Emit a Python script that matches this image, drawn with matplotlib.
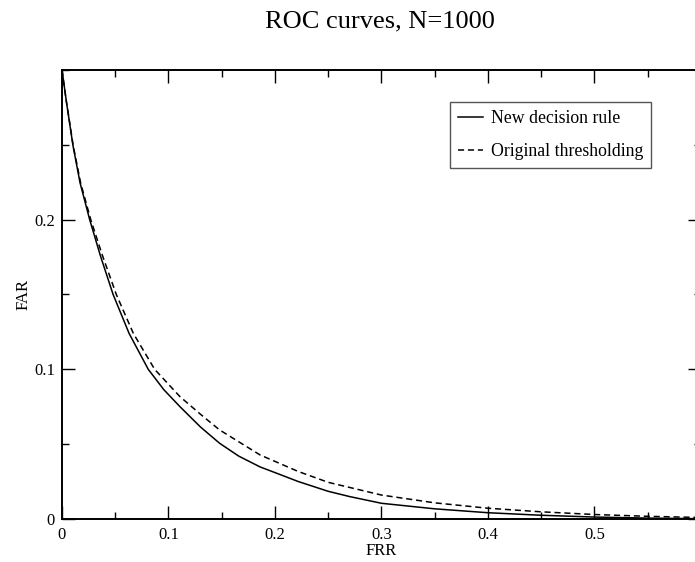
import matplotlib
matplotlib.use('Agg')
import matplotlib.pyplot as plt
from matplotlib.ticker import MultipleLocator

plt.rcParams['font.family'] = ['Liberation Serif', 'DejaVu Serif']

# FRR / FAR pairs for the two decision schemes
frr_new = [0.0, 0.004, 0.0103, 0.017, 0.026, 0.036, 0.048, 0.063, 0.081, 0.0955,
           0.1107, 0.13, 0.148, 0.166, 0.186, 0.2, 0.222, 0.25, 0.27, 0.3,
           0.35, 0.4, 0.45, 0.5, 0.55, 0.6]
far_new = [0.3, 0.2795, 0.2495, 0.2245, 0.2, 0.176, 0.15, 0.124, 0.1, 0.0865,
           0.0751, 0.0615, 0.0506, 0.042, 0.0348, 0.031, 0.025, 0.0185, 0.015, 0.0105,
           0.0068, 0.0042, 0.0025, 0.0013, 0.0006, 0.0002]

frr_orig = [0.0, 0.004, 0.0105, 0.0175, 0.027, 0.038, 0.051, 0.067, 0.087, 0.1107,
            0.13, 0.148, 0.186, 0.222, 0.25, 0.3, 0.35, 0.4, 0.45, 0.5,
            0.55, 0.6]
far_orig = [0.3, 0.2795, 0.2495, 0.2245, 0.2, 0.176, 0.15, 0.124, 0.1, 0.0818,
            0.07, 0.0595, 0.0428, 0.0317, 0.0245, 0.016, 0.0108, 0.0072, 0.0048, 0.003,
            0.0018, 0.001]

fig = plt.figure(figsize=(6.95, 5.62), dpi=100)
ax = fig.add_axes([0.0892, 0.0765, 0.9194, 0.799])

ax.plot(frr_new, far_new, color='black', lw=1.1, label='New decision rule')
ax.plot(frr_orig, far_orig, color='black', lw=1.1, ls=(0, (4, 2.5)),
        label='Original thresholding')

ax.set_xlim(0, 0.6)
ax.set_ylim(0, 0.3)
ax.xaxis.set_minor_locator(MultipleLocator(0.05))
ax.yaxis.set_minor_locator(MultipleLocator(0.05))
ax.set_xticks([0, 0.1, 0.2, 0.3, 0.4, 0.5])
ax.set_xticklabels(['0', '0.1', '0.2', '0.3', '0.4', '0.5'])
ax.set_yticks([0, 0.1, 0.2])
ax.set_yticklabels(['0', '0.1', '0.2'])

ax.tick_params(which='both', direction='in', top=True, right=True,
               labelsize=12, width=1.0)
ax.tick_params(which='major', length=9.5)
ax.tick_params(which='minor', length=5)
ax.tick_params(axis='x', which='major', pad=6)
ax.tick_params(axis='y', which='major', pad=5)
for s in ax.spines.values():
    s.set_linewidth(1.4)

ax.set_xlabel('FRR', fontsize=12, labelpad=0)
ax.set_ylabel('FAR', fontsize=12, labelpad=2)
fig.text(0.547, 0.961, 'ROC curves, N=1000', ha='center', va='center', fontsize=19)

leg = ax.legend(loc='upper left', bbox_to_anchor=(0.647, 0.8185),
                bbox_transform=fig.transFigure, borderaxespad=0, fontsize=12.8,
                fancybox=False, framealpha=1, edgecolor='#555555',
                handlelength=1.4, handletextpad=0.45, borderpad=0.45,
                labelspacing=0.9)
leg.get_frame().set_linewidth(1.0)

fig.savefig('out.png', dpi=100)
